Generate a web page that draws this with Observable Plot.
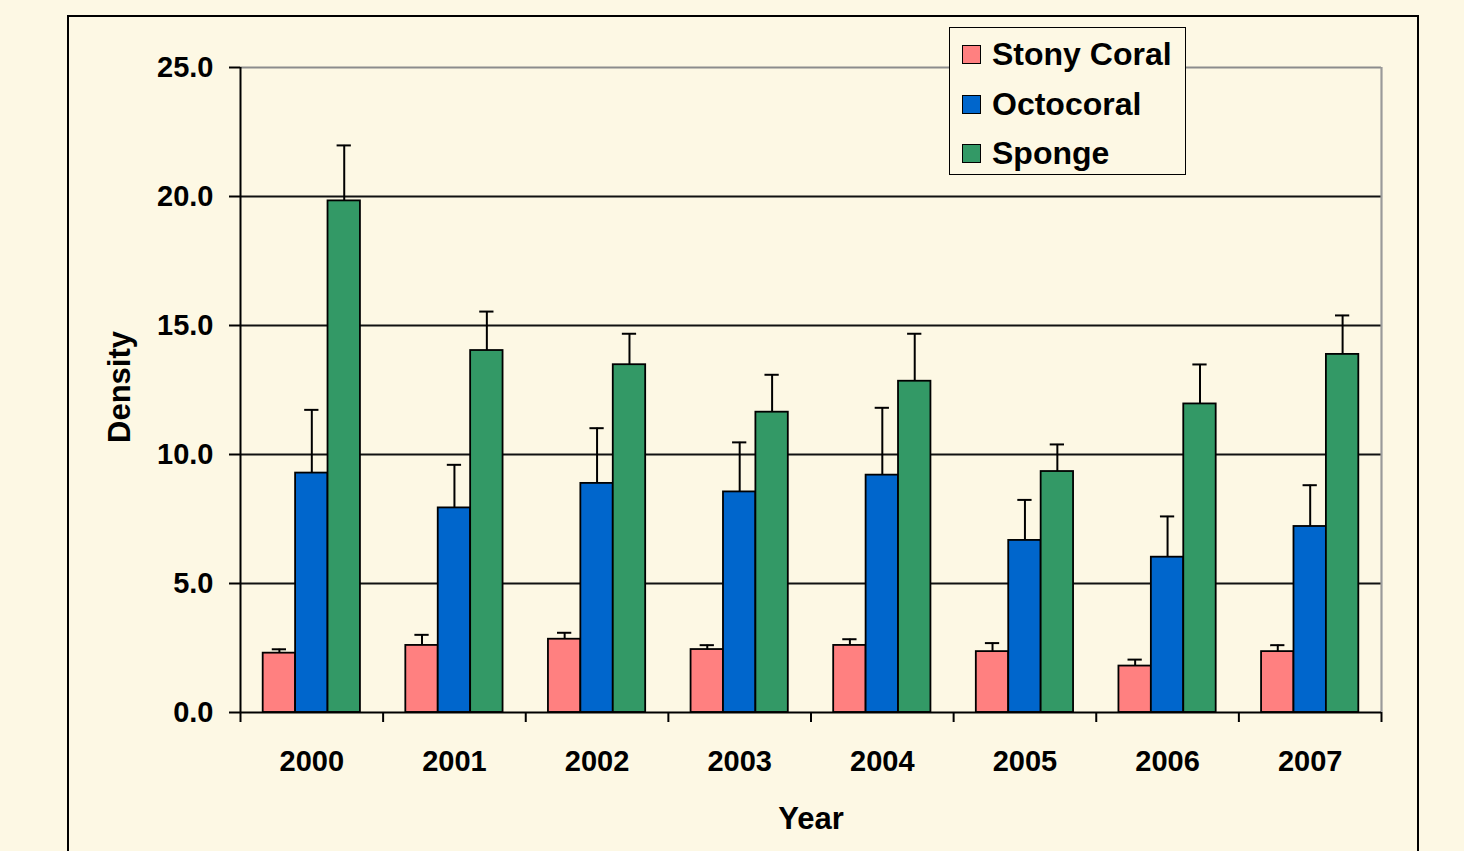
<!DOCTYPE html>
<html>
<head>
<meta charset="utf-8">
<script src="https://cdn.jsdelivr.net/npm/d3@7"></script>
<script src="https://cdn.jsdelivr.net/npm/@observablehq/plot@0.6"></script>
<style>
  html, body { margin: 0; padding: 0; background: #FDF8E4; overflow: hidden; }
  #wrap { position: relative; width: 1464px; height: 851px; font-family: "Liberation Sans", Arial, sans-serif; }
  #chart svg { display: block; }
  #frame { position: absolute; left: 67px; top: 15px; width: 1352px; height: 900px; box-sizing: border-box; border: 2px solid #000; pointer-events: none; }
  #legend { position: absolute; left: 949px; top: 27px; width: 237px; height: 148px; box-sizing: border-box; border: 1.5px solid #000; background: #FDF8E4; }
  .row { position: absolute; left: 12px; height: 40px; display: flex; align-items: center; font-weight: bold; font-size: 32px; color: #000; white-space: nowrap; }
  .sw { width: 19px; height: 19px; box-sizing: border-box; border: 1.5px solid #000; margin-right: 11px; }
</style>
</head>
<body>
<div id="wrap">
  <div id="chart"></div>
  <div id="legend"></div>
  <div id="frame"></div>
</div>
<script>
// ---- data ----
const years = ["2000", "2001", "2002", "2003", "2004", "2005", "2006", "2007"];
const series = ["Stony Coral", "Octocoral", "Sponge"];
const colors = ["#FF8080", "#0066CC", "#339966"];
const stony     = [2.30, 2.60, 2.84, 2.44, 2.60, 2.36, 1.80, 2.36];
const stonyErr  = [0.15, 0.41, 0.25, 0.17, 0.24, 0.33, 0.25, 0.25];
const octo      = [9.28, 7.93, 8.88, 8.55, 9.20, 6.67, 6.02, 7.21];
const octoErr   = [2.45, 1.67, 2.14, 1.92, 2.61, 1.57, 1.58, 1.60];
const sponge    = [19.83, 14.03, 13.48, 11.64, 12.84, 9.34, 11.96, 13.88];
const spongeErr = [2.15, 1.51, 1.20, 1.45, 1.84, 1.05, 1.53, 1.51];
const yTicks = [0, 5, 10, 15, 20, 25];
const gridValues = [5, 10, 15, 20];

// ---- table ----
const values = [stony, octo, sponge];
const errs = [stonyErr, octoErr, spongeErr];
const rows = [];
years.forEach((yr, i) => {
  series.forEach((s, j) => {
    rows.push({ year: yr, i, j, series: s, value: values[j][i], err: errs[j][i] });
  });
});

// Excel-style clustered layout: gap width 140% of one bar
const BW = 1 / 4.4;
const GAP = 0.7;
const x1 = d => d.i + (GAP + d.j) * BW;
const x2 = d => x1(d) + BW;
const xc = d => x1(d) + BW / 2;
const CAP = 0.05;

const font = "Liberation Sans, Arial, sans-serif";

const chart = Plot.plot({
  width: 1464,
  height: 851,
  marginLeft: 240,
  marginRight: 83,
  marginTop: 67,
  marginBottom: 139,
  style: { background: "transparent", fontFamily: font, color: "#000" },
  x: { type: "linear", domain: [0, years.length], axis: null },
  y: { domain: [0, 25], axis: null },
  color: { domain: series, range: colors },
  marks: [
    Plot.ruleY(gridValues, { stroke: "#111", strokeWidth: 1.8 }),
    Plot.ruleY([25], { stroke: "#8c8c8c", strokeWidth: 2.2 }),
    Plot.ruleX([years.length], { stroke: "#9a9a9a", strokeWidth: 2.2 }),
    Plot.rectY(rows, { x1, x2, y1: 0, y2: "value", fill: "series", stroke: "#000", strokeWidth: 1.8 }),
    Plot.ruleX(rows, { x: xc, y1: "value", y2: d => d.value + d.err, stroke: "#000", strokeWidth: 2 }),
    Plot.ruleY(rows, { y: d => d.value + d.err, x1: d => xc(d) - CAP, x2: d => xc(d) + CAP, stroke: "#000", strokeWidth: 2 }),
    Plot.ruleY([0], { stroke: "#000", strokeWidth: 2 }),
    Plot.ruleX([0], { stroke: "#000", strokeWidth: 2 }),
    Plot.axisY({ ticks: yTicks, tickFormat: d3.format(".1f"), tickSize: 11, tickPadding: 16,
      fontSize: 29, fontWeight: "bold", strokeWidth: 2, stroke: "#000", fill: "#000", label: null }),
    Plot.axisX({ ticks: d3.range(0, years.length + 1), tickSize: 10, tickFormat: () => "",
      strokeWidth: 2, stroke: "#000", label: null }),
    Plot.axisX({ ticks: years.map((_, i) => i + 0.5), tickSize: 0, tickPadding: 38,
      tickFormat: v => years[Math.floor(v)], fontSize: 29, fontWeight: "bold", fill: "#000", label: null }),
    Plot.text(["Year"], { frameAnchor: "bottom", dy: 116, fontSize: 31, fontWeight: "bold", fill: "#000" }),
    Plot.text(["Density"], { frameAnchor: "left", textAnchor: "middle", dx: -120, dy: -3, rotate: -90, fontSize: 31, fontWeight: "bold", fill: "#000" })
  ]
});
document.getElementById("chart").appendChild(chart);

// ---- legend ----
const legend = document.getElementById("legend");
const rowCenters = [28, 77.5, 127];
series.forEach((s, j) => {
  const r = document.createElement("div");
  r.className = "row";
  r.style.top = (rowCenters[j] - 1.5 - 20) + "px";
  const sw = document.createElement("div");
  sw.className = "sw";
  sw.style.background = colors[j];
  const t = document.createElement("span");
  t.textContent = s;
  r.appendChild(sw);
  r.appendChild(t);
  legend.appendChild(r);
});
</script>
</body>
</html>
